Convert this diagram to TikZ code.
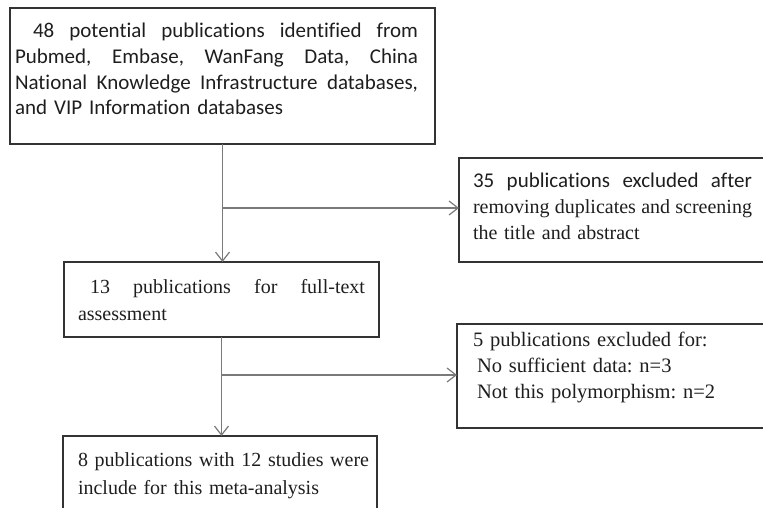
\documentclass[tikz,border=0pt]{standalone}
\usepackage{fontspec}
\setmainfont{Liberation Serif}
\newfontfamily\carlito[Ligatures=NoCommon]{Carlito}
\usetikzlibrary{arrows.meta}
\definecolor{boxline}{HTML}{333333}
\definecolor{connc}{HTML}{7A7A7A}
\definecolor{txt}{HTML}{1E1E1E}
\frenchspacing
\newcommand\jline[2]{\leavevmode\hbox to #1{#2}}
\tikzset{
  box/.style={draw=boxline, line width=1.4pt, anchor=north west, inner sep=0pt, outer sep=0pt},
  txtnode/.style={anchor=north west, inner sep=0pt, outer sep=0pt, align=left, text=txt},
  connline/.style={draw=connc, line width=1.3pt},
  arr/.style={connline, -{Straight Barb[length=9pt,width=14pt,line width=1.2pt]}}
}
\begin{document}
\begin{tikzpicture}[x=1pt,y=-1pt]
\useasboundingbox (0,0) rectangle (763,507);
\clip (0,0) rectangle (763,507);
% boxes
\node[box, minimum width=425pt, minimum height=136pt] (b1) at (10,8) {};
\node[box, minimum width=320pt, minimum height=104pt] (b2) at (459,158) {};
\node[box, minimum width=315pt, minimum height=75pt] (b3) at (64,262) {};
\node[box, minimum width=320pt, minimum height=104pt] (b4) at (457,324) {};
\node[box, minimum width=314pt, minimum height=90pt] (b5) at (63,436) {};
% texts
\node[txtnode, text width=403pt, font=\carlito\fontsize{21}{25.7}\selectfont] (t1) at (15,19.7)
{\strut\hspace*{18pt}\jline{385pt}{48\hfill potential\hfill publications\hfill identified\hfill from}\\
\jline{403pt}{Pubmed,\hfill Embase,\hfill WanFang\hfill Data,\hfill China}\\
\jline{403pt}{National\hfill Knowledge\hfill Infrastructure\hfill databases,}\\
and VIP Information databases};
\node[txtnode, text width=279pt, font=\fontsize{20}{26}\selectfont] (t2) at (473,168.8)
{\strut\jline{279pt}{\carlito\fontsize{21}{26}\selectfont 35\hfill publications\hfill excluded\hfill after}\\
\jline{279pt}{removing\hfill duplicates\hfill and\hfill screening}\\
the title and abstract};
\node[txtnode, text width=287pt, font=\fontsize{20}{27}\selectfont] (t3) at (78,274.1)
{\strut\hspace*{12pt}\jline{275pt}{13\hfill publications\hfill for\hfill full-text}\\
assessment};
\node[txtnode, text width=270pt, font=\fontsize{20.5}{26}\selectfont] (t4) at (473,327.8)
{\strut 5 publications excluded for:\\
\hspace*{4pt}No sufficient data: n=3\\
\hspace*{4pt}Not this polymorphism: n=2};
\node[txtnode, text width=295pt, font=\fontsize{20}{28}\selectfont] (t5) at (78,446.4)
{\strut 8 publications with 12 studies were\\
include for this meta-analysis};
% connectors
\draw[arr] (b1.south) -- (b1.south |- b3.north);
\path (b1.south) ++(0,64) coordinate (j1);
\draw[arr] (j1) -- (j1 -| b2.west);
\draw[arr] (b3.south) -- (b3.south |- b5.north);
\path (b3.south) ++(0,38) coordinate (j2);
\draw[arr] (j2) -- (j2 -| b4.west);
\end{tikzpicture}
\end{document}
